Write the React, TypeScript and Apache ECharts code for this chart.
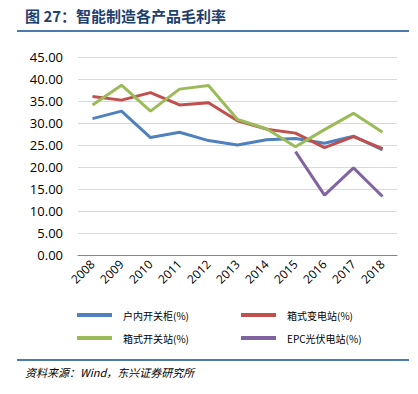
import React, { useEffect, useRef } from "react";
import * as echarts from "echarts";

const years = ["2008", "2009", "2010", "2011", "2012", "2013", "2014", "2015", "2016", "2017", "2018"];
const indoorSwitch = [31.0, 32.7, 26.7, 27.9, 26.0, 25.0, 26.2, 26.5, 25.4, 27.0, 23.9];
const boxSubstation = [36.0, 35.2, 36.9, 34.1, 34.6, 30.5, 28.6, 27.7, 24.4, 26.9, 24.2];
const boxSwitch = [34.1, 38.6, 32.7, 37.7, 38.5, 30.8, 28.7, 24.6, 28.5, 32.2, 27.9];
const epcPv = [null, null, null, null, null, null, null, 23.5, 13.6, 19.8, 13.3];
const seriesNames = ["户内开关柜(%)", "箱式变电站(%)", "箱式开关站(%)", "EPC光伏电站(%)"];
const colors = ["#4F81BD", "#C0504D", "#9BBB59", "#8064A2"];

const CJK = "'Noto Sans CJK SC', 'Noto Sans', sans-serif";

export default function App() {
  const ref = useRef<HTMLDivElement>(null);
  useEffect(() => {
    document.body.style.margin = "0";
    const chart = echarts.init(ref.current!, undefined, { renderer: "svg" });
    const data = [indoorSwitch, boxSubstation, boxSwitch, epcPv];
    const legendPos = [
      { left: 72, top: 305 },
      { left: 236, top: 305 },
      { left: 72, top: 328 },
      { left: 236, top: 328 },
    ];
    chart.setOption({
      animation: false,
      grid: { left: 78, right: 21, top: 57, bottom: 394 - 255 },
      xAxis: {
        type: "category",
        data: years,
        boundaryGap: true,
        axisLine: { lineStyle: { color: "#868686", width: 1 } },
        axisTick: { show: false },
        axisLabel: {
          rotate: 45,
          color: "#000",
          fontSize: 12,
          fontFamily: "'Open Sans', sans-serif",
          margin: 7,
          interval: 0,
        },
      },
      yAxis: {
        type: "value",
        min: 0,
        max: 45,
        interval: 5,
        axisLine: { show: false },
        axisTick: { show: false },
        splitLine: { lineStyle: { color: "#D9D9D9", width: 1 } },
        axisLabel: {
          formatter: (v: number) => v.toFixed(2),
          color: "#000",
          fontSize: 13,
          fontFamily: "'Open Sans', sans-serif",
          margin: 15,
        },
      },
      legend: seriesNames.map((n, i) => ({
        data: [n],
        left: legendPos[i].left,
        top: legendPos[i].top,
        icon: "rect",
        itemWidth: 35,
        itemHeight: 4,
        itemGap: 10,
        textStyle: { fontSize: 10, color: "#000", fontFamily: CJK, padding: [0, 0, 0, 6] },
      })),
      series: seriesNames.map((n, i) => ({
        name: n,
        type: "line",
        data: data[i],
        symbol: "none",
        lineStyle: { color: colors[i], width: 3 },
        itemStyle: { color: colors[i] },
      })),
      graphic: [
        {
          type: "text",
          left: 25,
          top: 8,
          style: {
            text: "图 27：智能制造各产品毛利率",
            fill: "#1F3F6F",
            font: `bold 15px ${CJK}`,
          },
        },
        {
          type: "line",
          shape: { x1: 17, y1: 31, x2: 409, y2: 31 },
          style: { stroke: "#4A7AAE", lineWidth: 2 },
        },
        {
          type: "line",
          shape: { x1: 17, y1: 360, x2: 409, y2: 360 },
          style: { stroke: "#4A7AAE", lineWidth: 2 },
        },
        {
          type: "text",
          left: 25,
          top: 366,
          style: {
            text: "资料来源：Wind，东兴证券研究所",
            fill: "#000",
            font: `italic 11px ${CJK}`,
          },
        },
      ],
    });
    return () => chart.dispose();
  }, []);
  return <div ref={ref} style={{ width: 418, height: 394 }} />;
}
